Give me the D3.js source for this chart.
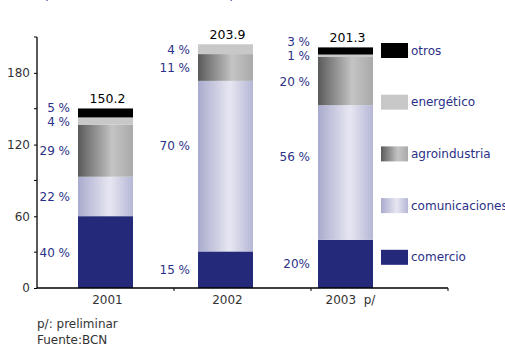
<!DOCTYPE html>
<html>
<head>
<meta charset="utf-8">
<script src="https://cdn.jsdelivr.net/npm/d3@7"></script>
<style>
  html, body { margin: 0; padding: 0; background: #fff; }
  svg { display: block; font-family: 'DejaVu Sans', sans-serif; }
</style>
</head>
<body>
<div id="chart"></div>
<script>
const years = ['2001', '2002', '2003'];
const yearLabels = ['2001', '2002', '2003  p/'];
const totals = [150.2, 203.9, 201.3];

// stacked from bottom to top
const sectors = ['comercio', 'comunicaciones', 'agroindustria', 'energético', 'otros'];
const comercio       = [60.1, 30.6, 40.3];
const comunicaciones = [33.0, 142.7, 112.7];
const agroindustria  = [43.6, 22.4, 40.3];
const energetico     = [6.0, 8.2, 2.0];
const otros          = [7.5, 0, 6.0];

const pctComercio       = ['40 %', '15 %', '20%'];
const pctComunicaciones = ['22 %', '70 %', '56 %'];
const pctAgro           = ['29 %', '11 %', '20 %'];
const pctEnergetico     = ['4 %', '4 %', '1 %'];
const pctOtros          = ['5 %', '', '3 %'];

const yTicks = [0, 60, 120, 180];
const yMinorTicks = [30, 90, 150, 210];

const W = 505, H = 347;
const navy = '#24297a';
const labelBlue = '#2b3087';

const rows = years.map((yr, i) => ({
  year: yr,
  comercio: comercio[i],
  comunicaciones: comunicaciones[i],
  agroindustria: agroindustria[i],
  'energético': energetico[i],
  otros: otros[i]
}));
const pcts = {
  comercio: pctComercio,
  comunicaciones: pctComunicaciones,
  agroindustria: pctAgro,
  'energético': pctEnergetico,
  otros: pctOtros
};

const svg = d3.select('#chart').append('svg')
  .attr('width', W).attr('height', H);

const defs = svg.append('defs');
const gAgro = defs.append('linearGradient').attr('id', 'gAgro');
gAgro.append('stop').attr('offset', '0%').attr('stop-color', '#5a5a5a');
gAgro.append('stop').attr('offset', '62%').attr('stop-color', '#c4c4c4');
gAgro.append('stop').attr('offset', '100%').attr('stop-color', '#a9a9a9');
const gCom = defs.append('linearGradient').attr('id', 'gCom');
gCom.append('stop').attr('offset', '0%').attr('stop-color', '#a9abcd');
gCom.append('stop').attr('offset', '58%').attr('stop-color', '#e7e7f2');
gCom.append('stop').attr('offset', '100%').attr('stop-color', '#b5b7d6');

const fills = {
  comercio: navy,
  comunicaciones: 'url(#gCom)',
  agroindustria: 'url(#gAgro)',
  'energético': '#c8c8c8',
  otros: '#000'
};

const y = d3.scaleLinear().domain([0, 210]).range([288, 37]);
const xBand = d3.scaleBand().domain(years).range([37, 448]);
const xBar = d3.scalePoint().domain(years).range([105.5, 345.5]);
const barW = 55;

// partial subtitle cut off at top
svg.append('text')
  .attr('x', 44).attr('y', 0)
  .attr('fill', labelBlue).attr('font-size', 12)
  .text('(millones de dólares corrientes)');

const stack = d3.stack().keys(sectors)(rows);

const layers = svg.selectAll('.layer')
  .data(stack)
  .join('g')
  .attr('class', 'layer')
  .attr('fill', d => fills[d.key]);

layers.selectAll('rect')
  .data(d => d)
  .join('rect')
  .attr('x', d => xBar(d.data.year) - barW / 2)
  .attr('width', barW)
  .attr('y', d => y(d[1]))
  .attr('height', d => y(d[0]) - y(d[1]));

// percentage labels, kept apart when segments are thin
years.forEach((yr, i) => {
  const items = stack.map(s => ({
    key: s.key,
    text: pcts[s.key][i],
    top: y(s[i][1]),
    mid: (y(s[i][0]) + y(s[i][1])) / 2
  })).filter(d => d.text);
  // tall segments get their label a bit higher than the middle
  items.forEach(d => {
    const h = 2 * (d.mid - d.top);
    if (h > 100) d.mid = d.top + h * 0.38;
  });
  items.sort((a, b) => b.mid - a.mid);
  for (let k = 1; k < items.length; k++) {
    if (items[k - 1].mid - items[k].mid < 14) items[k].mid = items[k - 1].mid - 14;
  }
  svg.selectAll(null)
    .data(items)
    .join('text')
    .attr('x', xBar(yr) - barW / 2 - 8)
    .attr('y', d => d.mid + 4.5)
    .attr('text-anchor', 'end')
    .attr('fill', labelBlue)
    .attr('font-size', 12)
    .text(d => d.text);
});

// totals
svg.selectAll('.total')
  .data(years)
  .join('text')
  .attr('class', 'total')
  .attr('x', d => xBar(d) + 2)
  .attr('y', (d, i) => y(totals[i]) - 5)
  .attr('text-anchor', 'middle')
  .attr('fill', '#000')
  .attr('font-size', 12.5)
  .text((d, i) => totals[i].toFixed(1));

// y axis
const yAxis = svg.append('g')
  .attr('transform', 'translate(37,0)')
  .call(d3.axisLeft(y).tickValues(yTicks).tickSize(3).tickPadding(4));
yAxis.select('.domain').attr('stroke', '#000').attr('stroke-width', 1.3)
  .attr('d', `M0,${y(0)}V${y(210)}`);
yAxis.selectAll('text').attr('font-size', 12).attr('fill', '#333')
  .attr('font-family', 'DejaVu Sans, sans-serif');
svg.append('g')
  .attr('transform', 'translate(37,0)')
  .selectAll('line')
  .data(yMinorTicks)
  .join('line')
  .attr('x1', -3).attr('x2', 0)
  .attr('y1', d => y(d)).attr('y2', d => y(d))
  .attr('stroke', '#000');

// x axis
const xg = svg.append('g').attr('transform', `translate(0,${y(0)})`);
xg.append('line')
  .attr('x1', xBand.range()[0]).attr('x2', xBand.range()[1])
  .attr('stroke', '#000').attr('stroke-width', 1.3);
xg.selectAll('.xtick')
  .data(years.slice(1).map(d => xBand(d)).concat([xBand.range()[1]]))
  .join('line')
  .attr('class', 'xtick')
  .attr('x1', d => d).attr('x2', d => d)
  .attr('y1', 0).attr('y2', 3)
  .attr('stroke', '#000');
xg.selectAll('.xlab')
  .data(years)
  .join('text')
  .attr('class', 'xlab')
  .attr('x', (d, i) => xBar(d) + (i === 2 ? 5 : 2))
  .attr('y', 16)
  .attr('text-anchor', 'middle')
  .attr('fill', '#333')
  .attr('font-size', 12)
  .style('white-space', 'pre')
  .text((d, i) => yearLabels[i]);

// legend
const legendOrder = ['otros', 'energético', 'agroindustria', 'comunicaciones', 'comercio'];
const legend = svg.selectAll('.leg')
  .data(legendOrder)
  .join('g')
  .attr('class', 'leg')
  .attr('transform', (d, i) => `translate(381,${43 + i * 51.7})`);
legend.append('rect')
  .attr('width', 27).attr('height', 15)
  .attr('fill', d => fills[d]);
legend.append('text')
  .attr('x', 30).attr('y', 11.5)
  .attr('fill', labelBlue)
  .attr('font-size', 12)
  .text(d => d);

// notes
svg.append('text').attr('x', 37).attr('y', 328)
  .attr('fill', '#333').attr('font-size', 12).text('p/: preliminar');
svg.append('text').attr('x', 37).attr('y', 344)
  .attr('fill', '#333').attr('font-size', 12).text('Fuente:BCN');
</script>
</body>
</html>
